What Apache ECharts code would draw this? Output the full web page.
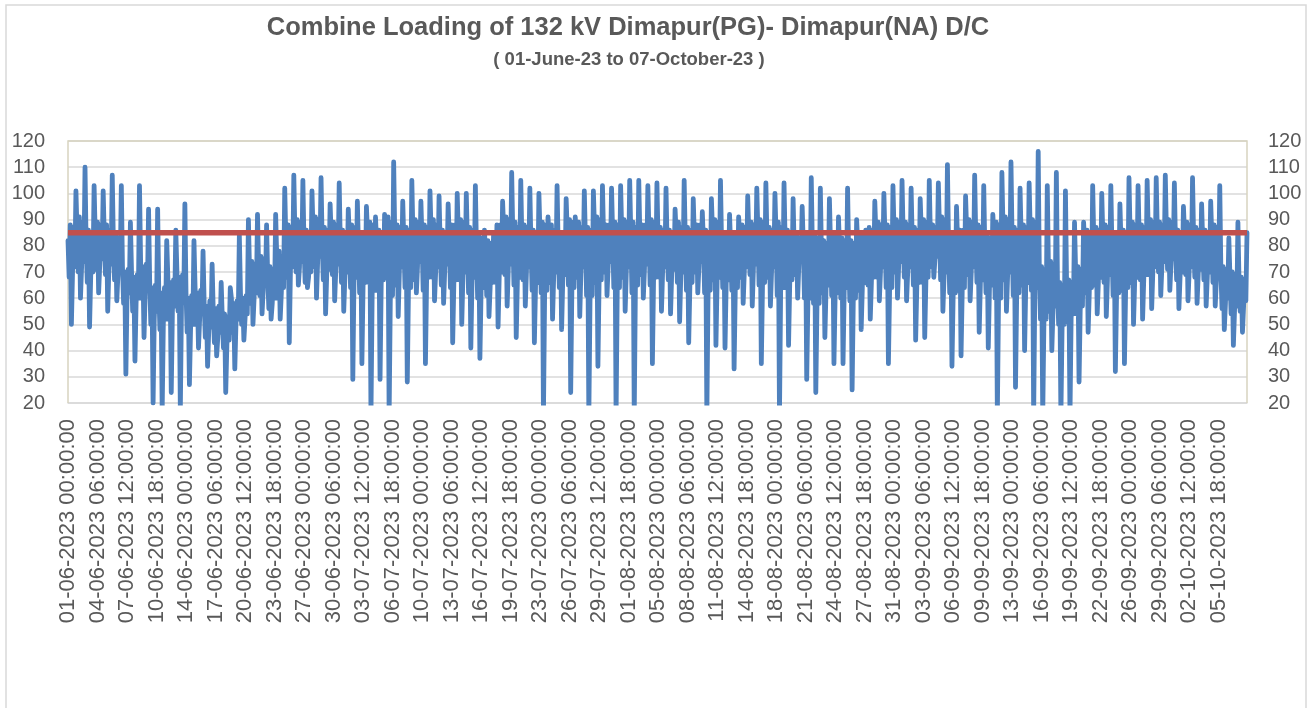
<!DOCTYPE html>
<html><head><meta charset="utf-8">
<script src="https://cdn.jsdelivr.net/npm/echarts@6/dist/echarts.min.js"></script>
<style>html,body{margin:0;padding:0;background:#fff}#c{width:1309px;height:708px}</style>
</head><body><div id="c"></div>
<script>
const TITLE = 'Combine Loading of 132 kV Dimapur(PG)- Dimapur(NA) D/C';
const SUBTITLE = '( 01-June-23 to 07-October-23 )';
const START_DATE = [2023, 5, 1];   // 01-06-2023 (month 0-based)
const DAYS = 130;
const SAMPLE_HOURS = [0, 3, 6, 9, 12, 15, 18, 21];
const LABEL_EVERY = 26;            // one label each 78 h (26 samples of 3 h)

// 3-hourly readings (MW), one array per hour of day
const load00 = [
 82,85,80,84,83,81,72,70,74,66, 63,68,70,62,64,58,55,52,60,62,
 70,72,68,75,82,84,80,85,81,83, 80,82,79,84,80,86,83,81,84,82,
 85,80,83,84,81,78,76,83,85,84, 82,80,84,83,79,85,84,82,86,83,
 84,85,84,83,85,82,80,84,82,83, 81,85,80,79,83,84,85,82,84,81,
 78,80,79,77,80,78,76,80,82,84, 83,85,84,82,85,83,86,80,81,85,
 83,78,84,86,82,83,85,70,72,65, 66,70,80,82,83,79,81,84,83,85,
 84,85,80,84,82,81,83,70,68,66];
const load03 = [
 68,70,66,71,69,67,58,55,60,50, 48,52,55,47,50,45,43,41,47,50,
 58,61,56,60,68,70,66,72,67,69, 66,64,62,66,63,68,65,64,67,63,
 68,65,64,67,62,60,61,66,69,65, 67,63,62,66,64,65,68,61,66,70,
 64,68,62,69,65,68,67,66,63,70, 62,67,64,63,68,69,65,68,61,64,
 69,60,58,62,61,60,59,63,65,68, 64,70,68,65,66,72,67,62,63,69,
 66,62,60,67,61,65,63,52,55,50, 51,54,62,65,66,61,63,66,67,69,
 70,71,67,69,68,67,66,56,54,55];
const load06 = [
 88,91,86,89,88,85,70,68,72,64, 62,66,68,60,62,57,56,54,58,60,
 74,76,72,78,88,90,86,91,87,89, 86,88,84,89,86,91,88,87,90,88,
 90,86,88,90,87,84,82,88,91,89, 88,86,89,88,85,90,89,87,91,88,
 89,90,89,88,90,87,86,89,87,88, 86,90,85,84,88,89,90,87,89,86,
 84,85,84,82,85,83,82,85,87,89, 88,90,89,87,90,88,91,85,86,90,
 88,84,89,91,87,88,90,72,74,66, 67,72,86,87,88,84,86,89,88,90,
 89,90,86,89,87,86,88,72,70,68];
const load09 = [   // daily trough
 50,60,49,62,55,59,31,36,45,20, 17,24,17,27,41,34,38,24,33,44,
 50,54,52,52,43,65,64,60,54,59, 55,29,35,15,29,15,53,28,62,35,
 59,58,43,50,41,37,53,49,57,45, 57,43,15,52,48,24,53,15,34,61,
 15,55,15,60,35,55,54,51,43,62, 15,42,41,33,58,57,35,57,15,42,
 60,29,24,45,35,35,25,48,52,59, 35,60,59,44,45,68,55,34,38,59,
 47,41,15,55,26,40,15,15,40,15, 15,28,47,54,53,32,35,50,52,56,
 61,63,56,59,58,57,57,48,42,47];
const load12 = [
 70,72,68,73,71,69,60,58,62,52, 50,55,57,48,52,47,45,42,50,52,
 60,63,58,62,70,72,68,74,69,71, 68,66,64,60,65,58,70,62,72,66,
 70,71,65,68,66,62,64,68,71,66, 70,64,60,68,67,62,70,58,65,72,
 62,70,63,71,66,70,69,68,64,72, 60,66,65,62,70,71,64,70,62,65,
 72,58,56,63,60,62,58,64,66,70, 62,72,70,64,66,75,68,60,62,70,
 65,63,58,68,60,64,62,50,55,48, 52,55,62,66,67,60,62,66,67,70,
 72,73,68,70,69,68,67,58,55,57];
const load15 = [
 87,89,85,88,86,83,71,69,73,65, 64,67,69,61,63,59,57,53,59,61,
 73,75,71,76,87,89,85,90,86,88, 85,87,85,88,85,89,87,86,89,87,
 88,85,88,89,86,83,81,88,90,87, 87,85,88,86,84,89,87,86,90,88,
 88,89,87,88,89,86,85,87,86,88, 85,89,84,84,87,88,89,86,87,85,
 83,84,83,81,84,82,81,84,86,88, 87,89,88,86,89,87,90,84,86,89,
 87,83,88,90,86,87,89,71,73,65, 66,71,85,86,87,84,85,88,87,89,
 88,89,85,88,86,85,87,71,69,67];
const load18 = [
 72,74,70,75,73,71,62,60,64,55, 52,57,59,50,54,49,47,44,52,54,
 62,65,60,64,72,74,70,76,71,73, 70,68,66,63,67,61,72,64,74,68,
 72,73,67,70,68,64,66,70,73,68, 72,66,63,70,69,64,72,61,67,74,
 64,72,65,73,68,72,71,70,66,74, 63,68,67,64,72,73,66,72,64,67,
 74,60,58,65,62,64,60,66,68,72, 64,74,72,66,68,76,70,62,64,72,
 67,65,60,70,62,66,64,52,57,50, 54,57,64,68,69,62,64,68,69,72,
 74,75,70,72,71,70,69,60,57,59];
const load21 = [   // daily peak
 101,110,103,101,107,103,89,103,94,94, 82,86,96,82,78,73,66,64,84,90,
 92,88,92,102,107,105,101,106,96,104, 94,97,95,91,92,112,97,105,97,101,
 99,96,100,100,103,86,84,97,108,105, 102,100,91,103,98,91,101,101,103,102,
 103,105,105,103,104,102,94,105,98,93, 98,105,92,91,99,102,104,100,104,98,
 95,106,102,98,91,102,90,86,97,100, 103,105,102,98,105,104,111,95,99,107,
 103,92,108,112,102,104,116,103,108,101, 89,89,103,100,103,96,106,103,105,106,
 107,104,95,106,96,97,103,83,89,85];
const LIMIT = 85;
const Y_MIN = 20, Y_MAX = 120, Y_STEP = 10;

// categories (3-hourly timestamps) and the load series built from the arrays above
const pad = n => String(n).padStart(2, '0');
const hourArrays = [load00, load03, load06, load09, load12, load15, load18, load21];
const categories = [];
const loadValues = [];
for (let d = 0; d < DAYS; d++) {
  const dt = new Date(Date.UTC(START_DATE[0], START_DATE[1], START_DATE[2] + d));
  const ds = pad(dt.getUTCDate()) + '-' + pad(dt.getUTCMonth() + 1) + '-' + dt.getUTCFullYear();
  SAMPLE_HOURS.forEach((h, k) => {
    categories.push(ds + ' ' + pad(h) + ':00:00');
    loadValues.push(hourArrays[k][d]);
  });
}
const limitValues = categories.map(() => LIMIT);

const FONT = 'Liberation Sans';
const TXT = '#595959';
const chart = echarts.init(document.getElementById('c'), null, {renderer: 'canvas'});
chart.setOption({
  animation: false,
  backgroundColor: '#ffffff',
  graphic: [
    {type: 'rect', z: 0, silent: true, shape: {x: 6, y: 5, width: 1300, height: 730},
     style: {fill: 'none', stroke: '#d9d9d9', lineWidth: 1.5}},
    {type: 'polyline', z: 1, silent: true, shape: {points: [[68, 403], [68, 141], [1247, 141], [1247, 403]]},
     style: {fill: 'none', stroke: '#d8d4c0', lineWidth: 1.5}},
    {type: 'text', x: 628, y: 28, silent: true,
     style: {text: TITLE, fontFamily: FONT, fontSize: 25.5, fontWeight: 'bold', fill: TXT, align: 'center', verticalAlign: 'middle'}},
    {type: 'text', x: 629, y: 60, silent: true,
     style: {text: SUBTITLE, fontFamily: FONT, fontSize: 18.5, fontWeight: 'bold', fill: TXT, align: 'center', verticalAlign: 'middle'}}
  ],
  grid: {left: 68, top: 141, right: 62, bottom: 305, containLabel: false, outerBoundsMode: 'none', show: false},
  xAxis: {
    type: 'category', data: categories, boundaryGap: false,
    axisTick: {show: false},
    axisLine: {show: true, lineStyle: {color: '#d9d9d9', width: 1.5}},
    axisLabel: {interval: LABEL_EVERY - 1, rotate: 90, margin: 16, fontSize: 22, fontFamily: FONT, color: TXT},
    splitLine: {show: false}
  },
  yAxis: [
    {type: 'value', min: Y_MIN, max: Y_MAX, interval: Y_STEP, position: 'left',
     axisLine: {show: false}, axisTick: {show: false},
     axisLabel: {margin: 23, fontSize: 20, fontFamily: FONT, color: TXT},
     splitLine: {show: true, lineStyle: {color: '#d9d9d9', width: 1.5}}},
    {type: 'value', min: Y_MIN, max: Y_MAX, interval: Y_STEP, position: 'right',
     axisLine: {show: false}, axisTick: {show: false},
     axisLabel: {margin: 21, fontSize: 20, fontFamily: FONT, color: TXT},
     splitLine: {show: false}}
  ],
  series: [
    {name: 'Load', type: 'line', data: loadValues, yAxisIndex: 0, showSymbol: false, symbol: 'none',
     clip: true, silent: true, z: 3, sampling: null,
     lineStyle: {color: '#4F81BD', width: 4.8, cap: 'round', join: 'round'}},
    {name: 'Limit', type: 'line', data: limitValues, yAxisIndex: 0, showSymbol: false, symbol: 'none',
     clip: true, silent: true, z: 4,
     lineStyle: {color: '#C0504D', width: 5.5}}
  ]
});
</script>
</body></html>
